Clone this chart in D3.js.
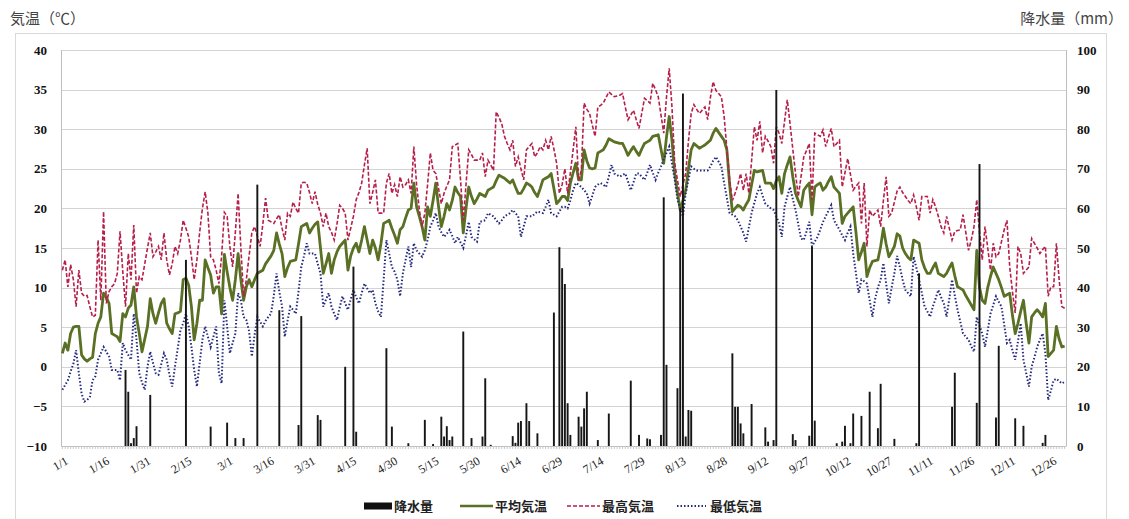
<!DOCTYPE html>
<html>
<head>
<meta charset="utf-8">
<script src="https://cdn.jsdelivr.net/npm/d3@7"></script>
<style>
body { margin: 0; background: #fff; }
text { font-family: "Liberation Serif", "DejaVu Serif", serif; }
.jp { font-family: "Noto Sans CJK JP", "Noto Sans", sans-serif; }
</style>
</head>
<body>
<div id="chart"></div>
<script>
// daily values, 1/1 .. 12/31 (366 days)
var meanTemp = [
1.7,3.0,2.1,4.2,5.0,5.1,5.1,1.5,1.0,0.7,
1.0,1.2,4.2,5.5,6.3,9.3,8.8,8.0,4.2,4.0,
3.8,3.2,6.7,6.3,7.4,7.8,10.1,6.3,4.2,1.9,
3.5,5.1,8.6,6.7,5.5,6.8,8.0,8.6,5.5,4.8,
4.2,6.7,6.8,7.0,11.0,11.2,10.3,7.6,3.4,5.5,
8.4,8.4,13.5,12.5,11.6,9.3,10.1,10.1,6.7,14.2,
12.0,10.0,8.4,11.0,14.3,11.0,8.4,10.1,11.0,10.1,
11.0,11.8,12.0,12.2,13.0,13.5,14.0,14.7,16.9,15.5,
14.3,11.4,12.5,13.3,13.4,13.5,15.5,17.7,17.9,18.1,
16.9,17.5,18.0,18.3,15.0,11.8,13.0,14.3,11.8,13.5,
14.5,15.2,15.6,16.0,12.2,14.0,15.0,15.6,14.5,16.0,
17.7,16.0,14.3,16.0,15.0,13.5,15.5,18.1,18.3,18.5,
17.5,16.6,15.6,17.3,17.7,18.8,19.8,20.0,23.2,20.2,
19.0,17.7,16.0,20.2,19.0,21.0,23.2,20.2,17.7,19.0,
20.6,19.8,21.0,22.7,22.0,21.5,16.9,20.0,22.7,21.5,
20.6,21.2,21.9,21.7,21.5,22.3,22.5,22.7,23.5,24.2,
24.0,23.8,23.5,23.2,23.6,22.7,21.9,21.9,22.5,23.2,
23.0,22.7,22.0,21.5,22.5,23.6,23.8,24.0,24.4,22.5,
20.6,21.0,21.5,21.5,21.0,23.2,24.5,25.7,23.6,23.6,
27.4,26.0,25.1,25.0,25.1,27.0,27.2,27.4,28.0,28.8,
28.6,28.4,28.3,28.2,28.2,27.5,26.7,27.3,27.8,27.2,
26.7,27.5,28.2,28.4,28.6,29.1,29.2,29.3,27.5,25.7,
29.0,31.6,28.6,24.4,22.0,19.8,21.0,22.3,25.0,27.4,
28.2,27.9,27.6,27.8,28.0,28.3,28.6,29.5,30.1,29.6,
29.1,28.6,27.4,23.0,19.6,20.0,20.4,20.2,19.8,20.5,
21.1,23.0,24.8,24.6,24.7,24.8,23.2,23.2,23.2,22.5,
23.5,24.0,21.9,24.4,25.5,26.5,24.0,21.9,21.0,20.2,
22.3,22.8,23.2,19.2,22.7,23.0,23.2,22.3,22.7,23.4,
24.0,22.7,22.3,21.9,18.1,19.0,19.4,19.8,20.2,17.0,
13.5,14.5,15.6,11.4,12.5,13.3,13.4,13.5,15.2,17.5,
15.5,13.9,14.5,15.2,16.8,16.5,15.0,14.3,13.8,13.5,
16.0,15.8,15.6,13.5,12.5,11.8,11.8,12.5,13.1,11.8,
11.6,11.4,11.8,12.5,13.1,11.5,10.1,9.9,9.7,9.0,
8.4,7.8,7.2,14.7,10.0,8.4,8.0,10.0,11.4,12.6,
11.8,11.0,10.0,8.9,9.1,9.3,6.5,4.2,5.5,7.0,
8.4,5.5,3.0,6.3,6.8,7.2,6.8,6.3,8.0,1.3,
1.7,2.1,5.1,3.5,2.5,2.6
]

var maxTemp = [
12.2,13.5,10.1,12.9,11.0,7.6,12.2,9.3,8.9,9.0,
7.6,6.3,6.5,16.0,8.4,19.6,8.0,9.5,10.1,10.5,
11.8,17.1,12.0,7.6,14.3,11.0,17.9,9.3,11.4,11.0,
13.0,15.0,16.9,13.9,14.5,15.2,13.5,16.9,13.5,11.6,
13.0,15.2,14.3,16.0,18.5,17.5,16.4,13.9,11.0,13.5,
17.0,20.0,22.1,19.4,13.9,13.5,12.2,10.5,14.0,19.5,
19.0,15.2,12.6,17.0,21.9,15.0,8.9,11.0,14.0,16.9,
17.7,16.5,15.2,18.0,21.3,18.5,18.3,18.1,18.7,19.2,
17.5,16.0,19.4,19.0,20.8,20.0,19.4,23.2,23.3,23.2,
22.0,20.6,22.1,20.5,19.4,17.7,19.4,17.7,17.0,16.0,
18.0,20.4,20.0,19.4,16.0,17.5,19.0,21.1,22.0,23.2,
25.5,27.6,20.6,22.0,23.6,19.4,19.4,19.4,23.2,24.4,
21.9,23.0,21.5,24.0,22.7,23.0,23.6,21.9,27.8,23.0,
19.8,17.7,19.4,23.0,27.0,24.8,24.4,22.5,20.6,21.9,
22.8,23.6,27.8,28.0,28.2,23.6,18.5,23.0,27.4,26.8,
26.1,26.1,26.1,27.0,24.0,26.1,25.5,24.8,32.2,31.5,
30.7,29.1,28.2,27.4,28.6,25.3,26.5,25.0,23.6,27.4,
27.8,28.2,26.5,27.0,27.8,27.4,28.6,27.4,29.1,27.5,
25.7,21.9,23.0,25.0,21.9,24.5,27.4,30.3,23.6,24.8,
33.3,32.5,32.0,30.5,29.1,32.8,33.0,33.3,34.0,34.7,
34.4,34.1,34.2,34.3,34.5,32.8,31.2,31.8,32.4,31.2,
30.1,32.0,33.9,33.6,33.3,35.8,35.0,34.1,31.8,29.5,
34.0,37.7,32.8,25.7,23.6,21.5,23.0,24.4,28.5,32.0,
33.1,32.5,32.0,32.4,32.8,31.2,34.0,36.0,34.9,34.5,
34.1,31.6,27.5,23.6,21.0,21.9,23.0,24.4,22.3,24.4,
21.9,26.0,30.3,28.6,31.0,27.0,29.1,28.5,27.8,25.7,
30.3,29.5,28.2,31.0,33.7,30.7,27.5,24.4,21.5,24.0,
26.5,27.3,28.2,21.1,29.5,29.3,29.1,29.9,27.8,29.0,
30.1,27.8,28.2,28.6,22.7,24.5,26.3,24.3,22.3,22.8,
23.2,18.1,23.2,15.2,19.8,19.0,19.4,19.8,17.7,21.0,
24.0,19.0,19.4,20.8,22.2,22.7,22.0,21.5,21.0,20.6,
21.7,20.2,18.5,21.5,21.5,21.5,19.4,21.1,20.2,19.0,
17.7,16.9,19.0,17.5,16.0,17.1,17.2,17.3,19.2,17.0,
14.7,16.0,17.7,21.1,17.0,13.5,17.7,15.0,12.2,15.6,
13.9,14.3,15.8,17.3,18.5,12.6,9.5,6.8,15.2,14.3,
11.8,12.2,12.6,16.2,15.6,15.0,14.3,14.8,15.2,8.9,
10.1,10.1,15.6,11.0,7.6,7.4
]

var minTemp = [
-2.9,-2.3,-1.7,-0.6,0.4,2.1,-0.8,-3.4,-4.4,-4.2,
-3.8,-1.7,-1.2,0.9,1.7,2.5,1.9,1.3,-0.4,-0.4,
-0.4,-1.7,3.0,2.1,1.5,0.9,6.7,3.4,-0.8,-2.0,
-2.9,0.0,1.9,0.5,-0.8,-1.0,0.3,1.7,0.9,-1.0,
-2.5,0.0,2.3,4.6,5.5,6.7,5.1,2.5,-0.4,-2.5,
0.5,3.4,5.1,3.8,2.5,3.8,5.1,-0.8,-2.1,8.4,
5.1,1.7,3.0,4.2,9.3,8.4,6.3,5.9,4.5,1.3,
4.0,6.3,5.7,5.1,5.8,6.3,6.7,9.0,11.8,9.5,
7.6,3.8,5.8,7.6,7.2,6.7,9.5,12.6,14.0,15.6,
14.3,14.3,14.3,13.0,11.8,7.6,8.5,9.3,7.6,6.7,
5.9,7.5,8.9,8.0,7.2,8.5,9.7,8.8,8.0,9.3,
10.5,9.9,9.3,9.7,8.0,7.0,6.3,11.0,16.0,14.3,
12.6,12.0,11.0,8.9,11.8,13.5,15.2,12.6,15.6,14.7,
14.3,13.9,14.7,16.0,17.7,18.5,19.4,17.7,17.0,16.4,
16.8,17.3,16.5,15.6,16.4,15.7,15.0,16.6,18.3,16.4,
16.1,15.8,18.3,18.4,18.5,19.4,19.2,19.0,18.5,18.1,
18.5,19.0,19.2,19.4,19.8,19.4,19.0,16.4,17.7,19.0,
19.0,19.0,19.3,19.6,19.5,19.4,20.2,21.1,19.4,19.2,
19.0,19.6,20.2,20.2,20.0,21.0,22.3,23.2,23.0,22.7,
22.3,21.9,20.6,21.6,22.7,23.0,23.2,23.0,22.7,24.0,
25.5,24.4,24.2,24.0,24.2,24.4,23.4,22.3,23.3,24.4,
24.4,24.0,23.6,24.5,25.5,24.5,23.6,24.5,25.3,26.2,
27.0,27.8,25.7,23.6,21.1,20.0,19.0,21.9,23.6,25.3,
25.0,24.8,24.8,24.8,24.8,24.8,25.3,26.0,26.5,25.9,
25.3,23.2,21.3,19.4,19.2,19.0,18.5,17.7,16.9,15.8,
17.6,19.4,20.7,21.9,22.7,21.6,20.6,20.3,20.0,19.8,
19.0,18.1,16.4,20.2,21.5,22.7,21.2,19.8,18.0,16.2,
16.0,17.1,18.3,15.2,15.8,16.4,17.3,18.3,19.0,19.7,
20.4,18.5,17.9,17.3,16.6,16.0,16.9,17.7,14.3,11.8,
9.3,11.0,10.8,10.5,8.4,6.3,8.6,10.0,11.0,13.1,
10.5,8.0,10.0,11.8,14.0,12.6,11.0,9.7,9.3,8.9,
13.9,12.5,11.0,9.3,7.6,7.0,6.3,7.6,8.6,9.7,
8.8,8.0,6.3,8.6,11.0,9.0,7.2,5.7,4.2,3.8,
3.4,2.6,1.9,6.3,5.2,4.2,2.5,4.6,6.7,7.8,
8.9,8.2,7.6,5.3,3.0,3.4,2.1,0.9,3.2,5.5,
0.9,-0.8,-2.5,0.0,1.2,2.5,3.4,4.2,1.7,-4.2,
-3.0,-1.7,-1.5,-1.8,-2.1,-1.9
]

// rain days (index from 1/1) and amount in mm
var rainDay = [23,24,25,26,27,32,45,54,60,63,66,71,79,86,87,93,94,103,106,107,118,120,
  126,132,135,138,139,140,141,142,146,149,153,154,156,164,165,166,167,169,170,173,
  179,181,182,183,184,185,188,189,190,191,195,199,207,210,213,214,218,219,220,224,225,226,227,228,229,
  244,245,246,247,248,251,256,257,259,260,266,267,272,273,274,282,284,285,287,288,291,294,297,298,303,
  311,312,324,325,333,334,340,341,347,350,357,358]
var rainMm = [19.2,13.7,0.7,2,5,12.9,47,4.9,5.9,2,2,66,34.3,5.3,32.8,7.8,6.6,20,45.3,3.6,24.7,4.9,
  0.7,6.6,0.5,7.4,2.4,5,1.5,2.4,28.9,2,2.4,17.1,0.3,2.5,0.8,5.9,6.3,10.8,6.3,3.2,
  33.7,50.2,44.9,40.9,10.8,2.8,7.4,4.9,9.5,13.7,1.5,8.2,16.5,2.8,1.9,1.7,2.8,62.8,20.5,14.6,60,89,2.4,9.1,8.9,
  23.4,9.9,9.9,5.7,3.2,10.6,4.7,1.1,1.5,89.9,3,1.5,2.6,50.3,6.4,0.7,1.1,5.1,0.7,8.2,7.6,13.7,4.5,15.7,1.8,
  0.7,43.6,9.9,18.5,10.9,71.2,7.2,25.3,7,5.1,0.8,2.8]

var tickDay = d3.range(0, 366, 15)
var tickLabels = ['1/1','1/16','1/31','2/15','3/1','3/16','3/31','4/15','4/30','5/15','5/30','6/14','6/29',
  '7/14','7/29','8/13','8/28','9/12','9/27','10/12','10/27','11/11','11/26','12/11','12/26']
var tempTicks = d3.range(-10, 41, 5)
var rainTicks = d3.range(0, 101, 10)

var colMean = '#5a7024', colMax = '#b51f4a', colMin = '#232a7d'

var svg = d3.select('#chart').append('svg').attr('width', 1129).attr('height', 519)

// outer frame
svg.append('rect').attr('x', 15.5).attr('y', 33.5).attr('width', 1091).attr('height', 490)
  .attr('fill', 'none').attr('stroke', '#d9d9d9')

var days = d3.range(meanTemp.length)
var x = d3.scaleBand().domain(days).range([61, 1066]).paddingInner(0.3).paddingOuter(0.15)
var cx = function(i){ return x(i) + x.bandwidth() / 2 }
var y = d3.scaleLinear().domain([-10, 40]).range([446, 50])
var yR = d3.scaleLinear().domain([0, 100]).range([446, 50])

// grid
svg.append('g').selectAll('line').data(tempTicks).join('line')
  .attr('x1', 61).attr('x2', 1066).attr('y1', function(d){ return Math.round(y(d)) + 0.5 })
  .attr('y2', function(d){ return Math.round(y(d)) + 0.5 })
  .attr('stroke', '#d4d4d4').attr('stroke-width', 1)

// plot side lines
svg.append('line').attr('x1', 61.5).attr('x2', 61.5).attr('y1', 50).attr('y2', 446).attr('stroke', '#bdbdbd')
svg.append('line').attr('x1', 1066.5).attr('x2', 1066.5).attr('y1', 50).attr('y2', 446).attr('stroke', '#bdbdbd')

// day ticks on bottom axis
var xAxis = d3.axisBottom(x).tickValues(days).tickSize(3).tickFormat('').tickSizeOuter(0)
var gx = svg.append('g').attr('transform', 'translate(0,446)').call(xAxis)
gx.select('.domain').attr('stroke', '#bdbdbd')
gx.selectAll('.tick line').attr('stroke', '#c8c8c8')

// left / right axis labels
var gl = svg.append('g').attr('transform', 'translate(61,0)')
  .call(d3.axisLeft(y).tickValues(tempTicks).tickSize(0).tickPadding(14))
gl.select('.domain').remove()
gl.selectAll('text').attr('font-family', 'Liberation Serif').attr('font-weight', 'bold')
  .attr('font-size', 13).attr('fill', '#111')

var gr = svg.append('g').attr('transform', 'translate(1066,0)')
  .call(d3.axisRight(yR).tickValues(rainTicks).tickSize(0).tickPadding(11))
gr.select('.domain').remove()
gr.selectAll('text').attr('font-family', 'Liberation Serif').attr('font-weight', 'bold')
  .attr('font-size', 13).attr('fill', '#111')

// rotated date labels
svg.append('g').selectAll('text').data(tickDay).join('text')
  .attr('transform', function(d){ return 'translate(' + (cx(d) + 3) + ',457) rotate(-30)' })
  .attr('text-anchor', 'end').attr('dy', '0.6em')
  .attr('font-size', 12).attr('fill', '#222')
  .text(function(d, i){ return tickLabels[i] })

// temperature lines
var line = d3.line().x(function(d, i){ return cx(i) }).y(function(d){ return y(d) })

svg.append('path').datum(meanTemp).attr('d', line)
  .attr('fill', 'none').attr('stroke', colMean).attr('stroke-width', 2.8).attr('stroke-linejoin', 'round')
svg.append('path').datum(maxTemp).attr('d', line)
  .attr('fill', 'none').attr('stroke', colMax).attr('stroke-width', 1.6).attr('stroke-dasharray', '4,2')
svg.append('path').datum(minTemp).attr('d', line)
  .attr('fill', 'none').attr('stroke', colMin).attr('stroke-width', 2).attr('stroke-dasharray', '1.5,2')

// rain bars
svg.append('g').selectAll('rect').data(rainDay).join('rect')
  .attr('x', function(d){ return x(d) })
  .attr('width', x.bandwidth())
  .attr('y', function(d, i){ return yR(rainMm[i]) })
  .attr('height', function(d, i){ return 446 - yR(rainMm[i]) })
  .attr('fill', '#161616')

// axis titles
svg.append('text').attr('class', 'jp').attr('x', 10).attr('y', 24)
  .attr('font-size', 15).attr('fill', '#444').text('気温（℃）')
svg.append('text').attr('class', 'jp').attr('x', 1123).attr('y', 24).attr('text-anchor', 'end')
  .attr('font-size', 15).attr('fill', '#444').text('降水量（mm）')

// legend
var lg = svg.append('g').attr('transform', 'translate(0,506)')
lg.append('rect').attr('x', 364).attr('y', -3.5).attr('width', 28).attr('height', 7).attr('fill', '#111')
lg.append('line').attr('x1', 460).attr('x2', 493).attr('stroke', colMean).attr('stroke-width', 2.6)
lg.append('line').attr('x1', 567).attr('x2', 600).attr('stroke', colMax).attr('stroke-width', 1.6).attr('stroke-dasharray', '4,2')
lg.append('line').attr('x1', 677).attr('x2', 706).attr('stroke', colMin).attr('stroke-width', 2).attr('stroke-dasharray', '1.5,2')
var legendItems = [[394, '降水量'], [495, '平均気温'], [602, '最高気温'], [710, '最低気温']]
lg.selectAll('text.lab').data(legendItems).join('text').attr('class', 'jp lab')
  .attr('x', function(d){ return d[0] }).attr('dy', '0.35em')
  .attr('font-size', 13).attr('font-weight', 'bold').attr('fill', '#222')
  .text(function(d){ return d[1] })
</script>
</body>
</html>
